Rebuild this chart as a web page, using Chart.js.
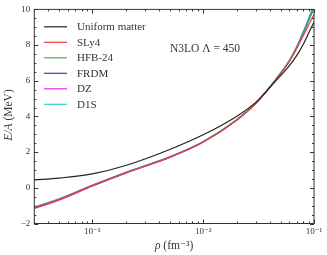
<!DOCTYPE html>
<html>
<head>
<meta charset="utf-8">
<script src="https://cdn.jsdelivr.net/npm/chart.js@4"></script>
<style>
  html, body { margin: 0; padding: 0; background: #fff; }
  canvas { display: block; }
</style>
</head>
<body>
<canvas id="chart" width="327" height="255"></canvas>
<script>
// 数据 (ρ in fm^-3, E/A in MeV)
const densities     = [3e-4, 5e-4, 1e-3, 2e-3, 5e-3, 1e-2, 2e-2, 3e-2, 4.5e-2, 6e-2, 7e-2, 8e-2, 9e-2, 1e-1];
const uniformMatter = [0.44, 0.54, 0.78, 1.25, 2.15, 2.97, 4.00, 4.80, 5.98, 6.85, 7.42, 8.05, 8.70, 9.30];
const sly4          = [-1.12, -0.66, 0.12, 0.84, 1.72, 2.57, 3.79, 4.75, 6.04, 7.08, 7.82, 8.52, 9.15, 9.72];
const hfb24         = [-1.10, -0.65, 0.13, 0.85, 1.73, 2.58, 3.80, 4.76, 6.05, 7.12, 7.87, 8.66, 9.40, 10.10];
const frdm          = [-1.12, -0.66, 0.12, 0.84, 1.72, 2.57, 3.79, 4.75, 6.05, 7.12, 7.88, 8.68, 9.42, 10.15];
const dz            = [-1.16, -0.70, 0.09, 0.82, 1.70, 2.55, 3.78, 4.74, 6.04, 7.11, 7.87, 8.67, 9.41, 10.10];
const d1s           = [-1.07, -0.62, 0.15, 0.87, 1.75, 2.60, 3.82, 4.78, 6.08, 7.16, 7.95, 8.78, 9.55, 10.30];

const seriesLabels = ['Uniform matter', 'SLy4', 'HFB-24', 'FRDM', 'DZ', 'D1S'];
const seriesColors = ['#222222', '#ee3b3b', '#55a855', '#3636f5', '#dd33dd', '#33cccc'];
const seriesValues = [uniformMatter, sly4, hfb24, frdm, dz, d1s];

const yTickValues = [-2, 0, 2, 4, 6, 8, 10];
const xTickLabels = { '-3': '10⁻³', '-2': '10⁻²', '-1': '10⁻¹' };

const SERIF = '"Liberation Serif", "DejaVu Serif", serif';

// 画边框、内向刻度、图例、标注和坐标轴标题
const decorPlugin = {
    id: 'decor',
    afterDraw: function(chart) {
        const ctx = chart.ctx;
        const a = chart.chartArea;
        const xs = chart.scales.x;
        const ys = chart.scales.y;

        ctx.save();
        ctx.strokeStyle = '#333';
        ctx.lineWidth = 1;
        ctx.strokeRect(a.left, a.top, a.right - a.left, a.bottom - a.top);

        // y 刻度
        ctx.beginPath();
        for (let v = -2; v <= 10.001; v += 0.5) {
            const py = Math.round(ys.getPixelForValue(v)) + 0.5;
            const len = (Math.abs(v % 2) < 0.001) ? 4 : 2;
            ctx.moveTo(a.left, py); ctx.lineTo(a.left + len, py);
            ctx.moveTo(a.right, py); ctx.lineTo(a.right - len, py);
        }
        // x 刻度 (log)
        for (let e = -4; e <= -1; e++) {
            for (let k = 1; k <= 9; k++) {
                const v = k * Math.pow(10, e);
                if (v < xs.min * 0.999 || v > xs.max * 1.001) continue;
                const px = Math.round(xs.getPixelForValue(v)) + 0.5;
                const len = (k === 1) ? 4 : 2;
                ctx.moveTo(px, a.bottom); ctx.lineTo(px, a.bottom - len);
                ctx.moveTo(px, a.top); ctx.lineTo(px, a.top + len);
            }
        }
        ctx.stroke();

        // 图例
        ctx.font = '11px ' + SERIF;
        ctx.textBaseline = 'middle';
        ctx.textAlign = 'left';
        chart.data.datasets.forEach(function(ds, i) {
            const y = a.top + 17.4 + i * 15.5;
            ctx.strokeStyle = ds.borderColor;
            ctx.lineWidth = 1.2;
            ctx.beginPath();
            ctx.moveTo(44, y); ctx.lineTo(67, y);
            ctx.stroke();
            ctx.fillStyle = '#333';
            ctx.fillText(ds.label, 77, y + 0.5);
        });

        // 标注
        ctx.font = '11.5px ' + SERIF;
        ctx.fillText('N3LO Λ = 450', 170, 49);

        // y 标题
        ctx.save();
        ctx.translate(9, 115);
        ctx.rotate(-Math.PI / 2);
        const itFont = 'italic 11.5px ' + SERIF;
        const rmFont = '11.5px ' + SERIF;
        ctx.font = itFont;
        const w1 = ctx.measureText('E/A').width;
        ctx.font = rmFont;
        const w2 = ctx.measureText(' (MeV)').width;
        let sx = -(w1 + w2) / 2;
        ctx.font = itFont;
        ctx.fillText('E/A', sx, 0);
        ctx.font = rmFont;
        ctx.fillText(' (MeV)', sx + w1, 0);
        ctx.restore();

        // x 标题
        ctx.font = itFont;
        const w3 = ctx.measureText('ρ').width;
        ctx.font = rmFont;
        const w4 = ctx.measureText(' (fm⁻³)').width;
        sx = (a.left + a.right) / 2 - (w3 + w4) / 2;
        ctx.font = itFont;
        ctx.fillText('ρ', sx, 246);
        ctx.font = rmFont;
        ctx.fillText(' (fm⁻³)', sx + w3, 246);

        ctx.restore();
    }
};

const datasets = seriesLabels.map(function(name, i) {
    return {
        label: name,
        data: densities.map((d, j) => ({ x: d, y: seriesValues[i][j] })),
        borderColor: seriesColors[i],
        backgroundColor: seriesColors[i],
        borderWidth: 1.2,
        pointRadius: 0,
        cubicInterpolationMode: 'monotone',
        fill: false
    };
});

new Chart(document.getElementById('chart'), {
    type: 'line',
    data: { datasets: datasets },
    options: {
        responsive: false,
        animation: false,
        devicePixelRatio: 1,
        layout: { padding: { top: 5, right: 13, left: 0, bottom: 0 } },
        plugins: {
            legend: { display: false },
            tooltip: { enabled: false }
        },
        scales: {
            x: {
                type: 'logarithmic',
                min: 3e-4,
                max: 1e-1,
                grid: { display: false, drawTicks: false },
                border: { display: false },
                afterFit: function(s) { s.height = 31.5; },
                ticks: {
                    autoSkip: false,
                    maxRotation: 0,
                    padding: 3,
                    color: '#333',
                    font: { family: SERIF, size: 9 },
                    callback: function(v) {
                        const e = Math.log10(v);
                        if (Math.abs(e - Math.round(e)) < 1e-6) {
                            return xTickLabels[String(Math.round(e))] || '';
                        }
                        return '';
                    }
                }
            },
            y: {
                min: -2,
                max: 10,
                afterBuildTicks: function(s) {
                    s.ticks = yTickValues.map(v => ({ value: v }));
                },
                afterFit: function(s) { s.width = 34.3; },
                grid: { display: false, drawTicks: false },
                border: { display: false },
                ticks: {
                    padding: 4,
                    color: '#333',
                    font: { family: SERIF, size: 9 },
                    callback: function(v) {
                        return v < 0 ? '−' + Math.abs(v) : String(v);
                    }
                }
            }
        }
    },
    plugins: [decorPlugin]
});
</script>
</body>
</html>
